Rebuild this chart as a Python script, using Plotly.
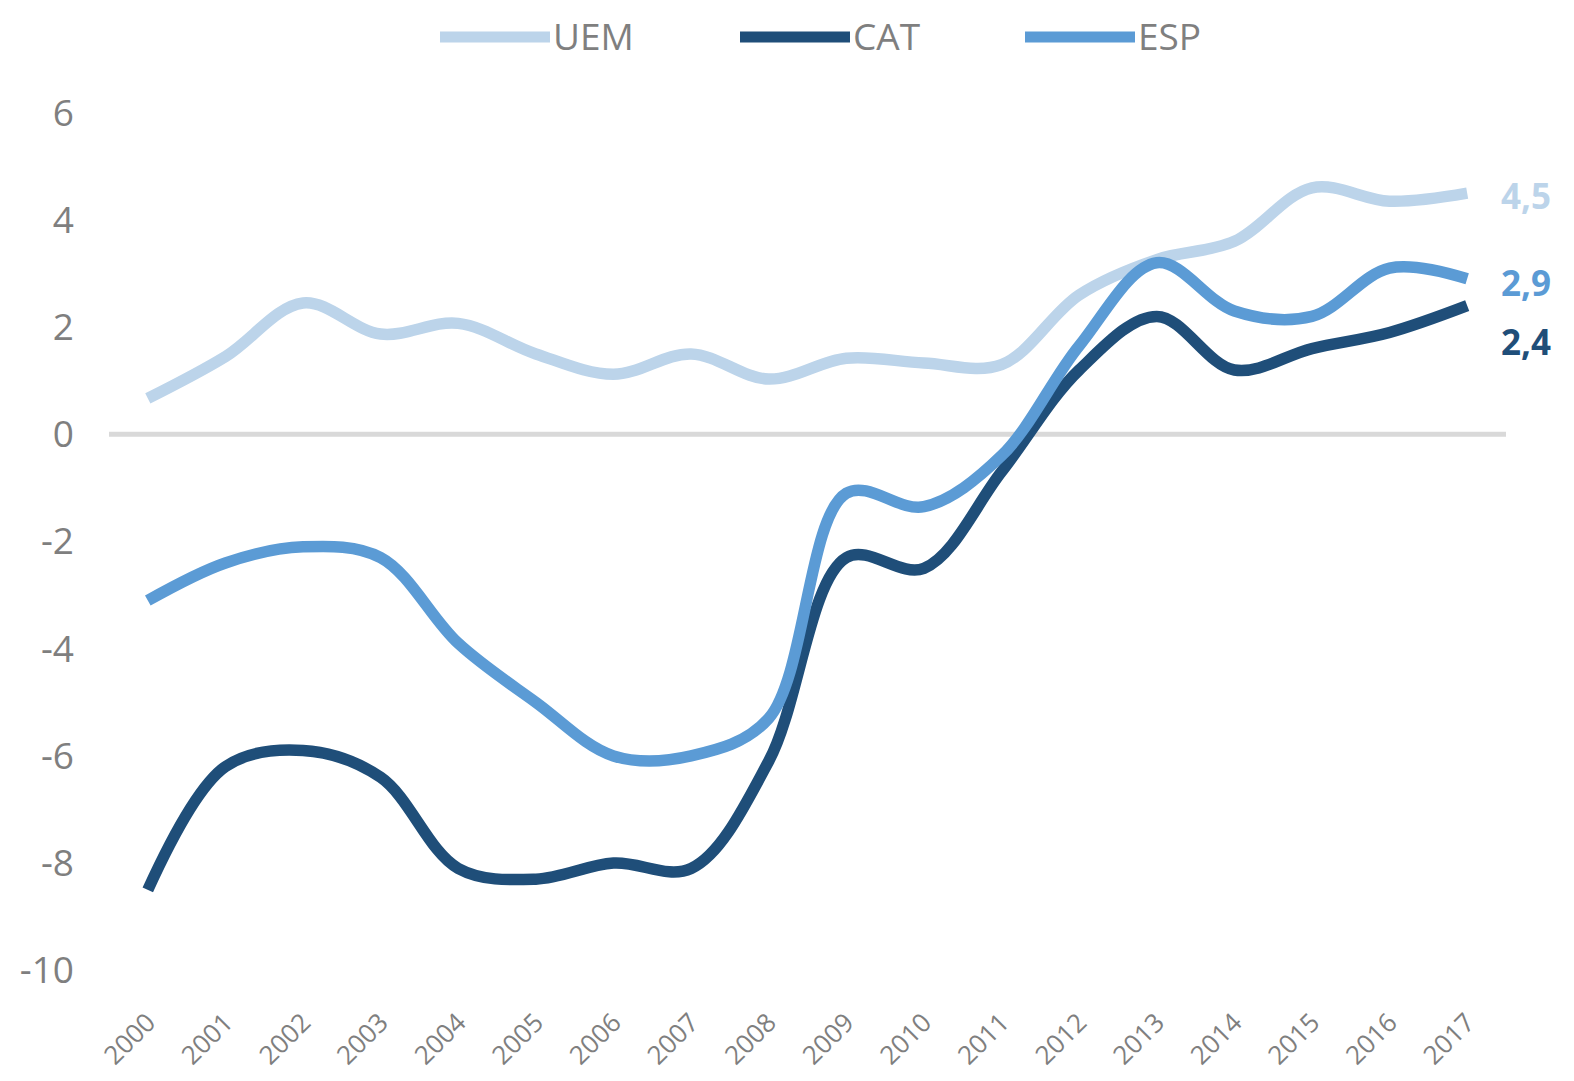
import plotly.graph_objects as go

years = [str(y) for y in range(2000, 2018)]
uem = [0.67, 1.45, 2.45, 1.87, 2.07, 1.5, 1.12, 1.5, 1.03, 1.42, 1.33, 1.3, 2.6, 3.26, 3.6, 4.6, 4.35, 4.5]
cat = [-8.5, -6.2, -5.9, -6.4, -8.1, -8.3, -8.0, -8.1, -6.1, -2.3, -2.5, -0.7, 1.2, 2.2, 1.2, 1.6, 1.9, 2.4]
esp = [-3.1, -2.4, -2.1, -2.3, -3.9, -5.0, -6.0, -6.0, -5.3, -1.1, -1.35, -0.4, 1.65, 3.2, 2.3, 2.2, 3.1, 2.9]
y_ticks = [6, 4, 2, 0, -2, -4, -6, -8, -10]

series = [("UEM", uem, "#bcd4ea"), ("CAT", cat, "#1f4e79"), ("ESP", esp, "#5b9bd5")]

OFF = 8  # browser body margin
W, H = 1574 - 2 * OFF, 1081 - 2 * OFF
ml, mt = 109 - OFF, 102 - OFF
pw, ph = 1397, 879
mr = W - ml - pw
mb = H - mt - ph

fig = go.Figure()
for name, vals, col in series:
    fig.add_trace(go.Scatter(x=years, y=vals, mode="lines", name=name,
                             line=dict(color=col, width=11.5, shape="spline"),
                             showlegend=False))

# end labels (pixel nudges only to avoid overlap)
label_yshift = {"UEM": -2, "CAT": -36, "ESP": -4}
for name, vals, col in series:
    fig.add_annotation(x=len(years) - 1, y=vals[-1],
                       text="<b>" + f"{vals[-1]:.1f}".replace(".", ",") + "</b>",
                       showarrow=False, xanchor="left", xshift=32, yshift=label_yshift[name],
                       font=dict(family="Open Sans", size=35, color=col))

# zero line
fig.add_shape(type="line", xref="paper", yref="y", x0=0, x1=1, y0=0, y1=0,
              line=dict(color="#d9d9d9", width=5), layer="below")

# custom legend (paper coordinates; window pixel positions)
def px2x(px):
    return (px - OFF - ml) / pw

def py2y(py):
    return 1 - (py - OFF - mt) / ph

leg = [("UEM", "#bcd4ea", 440, 550), ("CAT", "#1f4e79", 740, 850), ("ESP", "#5b9bd5", 1025, 1135)]
for name, col, x0, x1 in leg:
    fig.add_shape(type="line", xref="paper", yref="paper", x0=px2x(x0), x1=px2x(x1),
                  y0=py2y(37), y1=py2y(37), line=dict(color=col, width=11))
    fig.add_annotation(xref="paper", yref="paper", x=px2x(x1 + 1), y=py2y(35), text=name,
                       showarrow=False, xanchor="left", yanchor="middle",
                       font=dict(family="Open Sans", size=37, color="#7f7f7f"))

fig.update_layout(
    width=W, height=H,
    margin=dict(l=ml, r=mr, t=mt, b=mb),
    plot_bgcolor="white", paper_bgcolor="white",
    font=dict(family="Open Sans", color="#7f7f7f"),
)
fig.update_xaxes(type="category", range=[-0.5, 17.5], showgrid=False, zeroline=False,
                 showline=False, ticks="", tickangle=-45, automargin=False,
                 ticklabelstandoff=20,
                 tickfont=dict(size=26, color="#7f7f7f"))
fig.update_yaxes(range=[-10.2, 6.2], tickvals=y_ticks, ticktext=[str(v) for v in y_ticks],
                 showgrid=False, zeroline=False, showline=False, ticks="", automargin=False,
                 ticklabelstandoff=34, tickfont=dict(size=37, color="#7f7f7f"))

fig.write_html("out.html")
